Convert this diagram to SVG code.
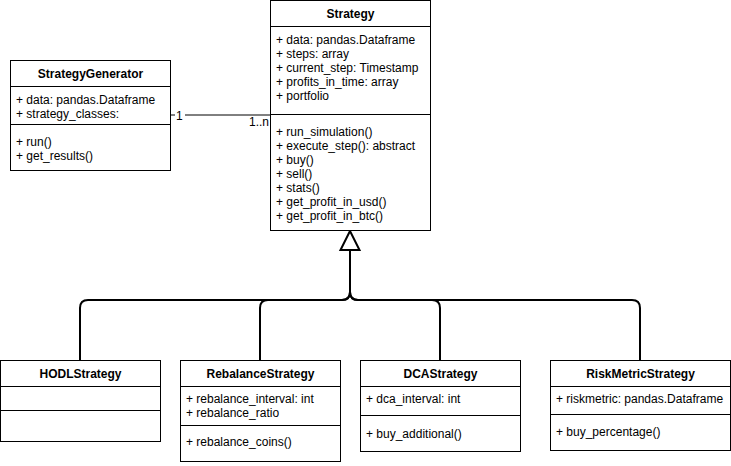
<svg xmlns="http://www.w3.org/2000/svg" width="731" height="466" viewBox="0 0 731 466">
<style>
.box{fill:#fff;stroke:#000;stroke-width:1}
.sep{stroke:#000;stroke-width:1}
text{font-family:"Liberation Sans",Arial,sans-serif;font-size:12px;fill:#000}
.t{font-weight:bold;text-anchor:middle}
.inh{fill:none;stroke:#000;stroke-width:2}
</style>
<rect width="731" height="466" fill="#fff"/>
<g id="connectors">
<line x1="170" y1="115" x2="270" y2="115" stroke="#000" stroke-width="1"/>
<rect x="175" y="108" width="10" height="14" fill="#fff"/>
<text x="176" y="120">1</text>
<text x="249" y="126">1..n</text>
<path class="inh" d="M80,360 L80,308 Q80,300 88,300 L342,300 Q350,300 350,292 L350,250"/>
<path class="inh" d="M260,360 L260,308 Q260,300 268,300 L342,300 Q350,300 350,292 L350,250"/>
<path class="inh" d="M440,360 L440,308 Q440,300 432,300 L358,300 Q350,300 350,292 L350,250"/>
<path class="inh" d="M640,360 L640,308 Q640,300 632,300 L358,300 Q350,300 350,292 L350,250"/>
<polygon points="350,231 340.5,250 359.5,250" fill="#fff" stroke="#000" stroke-width="2"/>
</g>
<g id="StrategyGenerator">
<rect class="box" x="10.5" y="60.5" width="160" height="110"/>
<line class="sep" x1="10.5" y1="86.5" x2="170.5" y2="86.5"/>
<line class="sep" x1="10.5" y1="124.5" x2="170.5" y2="124.5"/>
<text class="t" x="90.5" y="78">StrategyGenerator</text>
<text x="16" y="104">+ data: pandas.Dataframe</text>
<text x="16" y="118">+ strategy_classes:</text>
<text x="16" y="146">+ run()</text>
<text x="16" y="160">+ get_results()</text>
</g>
<g id="Strategy">
<rect class="box" x="270.5" y="0.5" width="160" height="230"/>
<line class="sep" x1="270.5" y1="26.5" x2="430.5" y2="26.5"/>
<line class="sep" x1="270.5" y1="114.5" x2="430.5" y2="114.5"/>
<text class="t" x="350.5" y="18">Strategy</text>
<text x="276" y="44">+ data: pandas.Dataframe</text>
<text x="276" y="58">+ steps: array</text>
<text x="276" y="72">+ current_step: Timestamp</text>
<text x="276" y="86">+ profits_in_time: array</text>
<text x="276" y="100">+ portfolio</text>
<text x="276" y="136">+ run_simulation()</text>
<text x="276" y="150">+ execute_step(): abstract</text>
<text x="276" y="164">+ buy()</text>
<text x="276" y="178">+ sell()</text>
<text x="276" y="192">+ stats()</text>
<text x="276" y="206">+ get_profit_in_usd()</text>
<text x="276" y="220">+ get_profit_in_btc()</text>
</g>
<g id="HODLStrategy">
<rect class="box" x="0.5" y="360.5" width="160" height="81"/>
<line class="sep" x1="0.5" y1="386.5" x2="160.5" y2="386.5"/>
<line class="sep" x1="0.5" y1="410.5" x2="160.5" y2="410.5"/>
<text class="t" x="80.5" y="378">HODLStrategy</text>
</g>
<g id="RebalanceStrategy">
<rect class="box" x="180.5" y="360.5" width="160" height="101"/>
<line class="sep" x1="180.5" y1="386.5" x2="340.5" y2="386.5"/>
<line class="sep" x1="180.5" y1="425.5" x2="340.5" y2="425.5"/>
<text class="t" x="260.5" y="378">RebalanceStrategy</text>
<text x="186" y="403">+ rebalance_interval: int</text>
<text x="186" y="417">+ rebalance_ratio</text>
<text x="186" y="446">+ rebalance_coins()</text>
</g>
<g id="DCAStrategy">
<rect class="box" x="360.5" y="360.5" width="160" height="91"/>
<line class="sep" x1="360.5" y1="386.5" x2="520.5" y2="386.5"/>
<line class="sep" x1="360.5" y1="415.5" x2="520.5" y2="415.5"/>
<text class="t" x="440.5" y="378">DCAStrategy</text>
<text x="366" y="403">+ dca_interval: int</text>
<text x="366" y="438">+ buy_additional()</text>
</g>
<g id="RiskMetricStrategy">
<rect class="box" x="550.5" y="360.5" width="180" height="90"/>
<line class="sep" x1="550.5" y1="386.5" x2="730.5" y2="386.5"/>
<line class="sep" x1="550.5" y1="414.5" x2="730.5" y2="414.5"/>
<text class="t" x="640.5" y="378">RiskMetricStrategy</text>
<text x="556" y="403">+ riskmetric: pandas.Dataframe</text>
<text x="556" y="436">+ buy_percentage()</text>
</g>
</svg>
